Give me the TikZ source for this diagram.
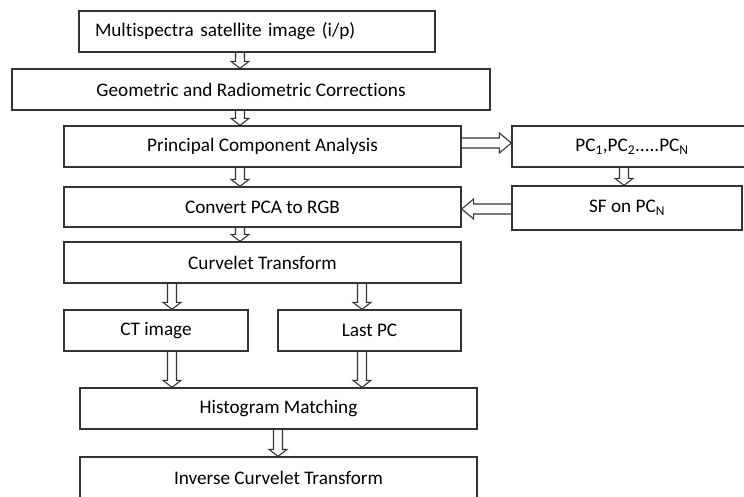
\documentclass[tikz,border=0pt]{standalone}
\usepackage{fontspec}
\setmainfont{Carlito}[Ligatures={NoCommon}]
\usetikzlibrary{calc}
\tikzset{
  box/.style={draw=black!80, line width=1.3pt, minimum height=41pt, inner sep=0pt,
    font=\fontsize{19.2}{22}\selectfont, text=black},
  hollow/.style={draw=black!80, line width=1.1pt, line join=miter},
}
% vertical hollow arrow: x position, upper node, lower node
\newcommand\vhollow[3]{%
  \draw[hollow] let \p1=(#2.south), \p2=(#3.north) in
    (#1pt-4.5pt,\y1) -- (#1pt-4.5pt,\y2+7pt) -- (#1pt-9pt,\y2+7pt) -- (#1pt,\y2)
    -- (#1pt+9pt,\y2+7pt) -- (#1pt+4.5pt,\y2+7pt) -- (#1pt+4.5pt,\y1);}
% rightward hollow arrow: y position, left node, right node
\newcommand\hright[3]{%
  \draw[hollow] let \p1=(#2.east), \p2=(#3.west) in
    (\x1,-#1pt+5pt) -- (\x2-12pt,-#1pt+5pt) -- (\x2-12pt,-#1pt+10pt) -- (\x2,-#1pt)
    -- (\x2-12pt,-#1pt-10pt) -- (\x2-12pt,-#1pt-5pt) -- (\x1,-#1pt-5pt);}
% leftward hollow arrow: y position, right node, left node
\newcommand\hleft[3]{%
  \draw[hollow] let \p1=(#2.west), \p2=(#3.east) in
    (\x1,-#1pt+5pt) -- (\x2+12pt,-#1pt+5pt) -- (\x2+12pt,-#1pt+10pt) -- (\x2,-#1pt)
    -- (\x2+12pt,-#1pt-10pt) -- (\x2+12pt,-#1pt-5pt) -- (\x1,-#1pt-5pt);}
\begin{document}
\begin{tikzpicture}[x=1pt,y=-1pt]
  \useasboundingbox (0,0) rectangle (744,496);
  \clip (0,0) rectangle (744,496);

  \node[box, text width=324pt, inner xsep=16pt, align=left] (b1) at (257,31.5)
    {Multispectra satellite image (i/p)};
  \node[box, minimum width=478pt] (b2) at (251,89.5) {Geometric and Radiometric Corrections};
  \node[box, minimum width=397pt] (b3) at (262.5,146.5) {Principal Component Analysis};
  \node[box, minimum width=397pt, minimum height=40pt] (b4) at (262.5,207) {Convert PCA to RGB};
  \node[box, minimum width=397pt] (b5) at (262.5,262.5) {Curvelet Transform};
  \node[box, minimum width=184pt] (ct) at (156,330.5) {CT image};
  \node[box, minimum width=183pt] (lp) at (369.5,330.5) {Last PC};
  \node[box, minimum width=397pt] (hm) at (278.5,408.5) {Histogram Matching};
  \node[box, minimum width=397pt] (ic) at (278.5,477.5) {Inverse Curvelet Transform};
  \node[box, minimum width=240pt] (pc) at (632,146.5)
    {PC\textsubscript{1},PC\textsubscript{2}.....PC\textsubscript{N}};
  \node[box, minimum width=230pt, minimum height=44pt] (sf) at (627,208)
    {SF on PC\textsubscript{N}};

  \vhollow{240}{b1}{b2}
  \vhollow{240}{b2}{b3}
  \vhollow{240}{b3}{b4}
  \vhollow{240}{b4}{b5}
  \vhollow{172}{b5}{ct}
  \vhollow{362}{b5}{lp}
  \vhollow{172}{ct}{hm}
  \vhollow{362}{lp}{hm}
  \vhollow{278}{hm}{ic}
  \vhollow{624}{pc}{sf}
  \hright{143}{b3}{pc}
  \hleft{209}{sf}{b4}
\end{tikzpicture}
\end{document}
